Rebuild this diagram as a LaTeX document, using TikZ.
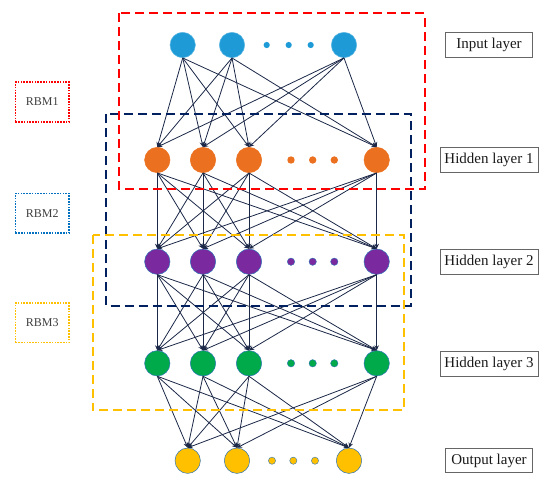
\documentclass[tikz,border=0pt]{standalone}
\usepackage{fontspec}
\setmainfont{Liberation Serif}
\usetikzlibrary{arrows.meta, positioning}

\definecolor{inblue}{RGB}{30,155,215}
\definecolor{hidorange}{RGB}{235,112,32}
\definecolor{hidpurple}{RGB}{122,42,158}
\definecolor{hidgreen}{RGB}{0,170,75}
\definecolor{outyellow}{RGB}{255,192,0}
\definecolor{linknavy}{RGB}{28,40,72}
\definecolor{boxnavy}{RGB}{0,32,96}
\definecolor{boxred}{RGB}{255,0,0}
\definecolor{rbmblue}{RGB}{0,112,192}
\definecolor{rimblue}{RGB}{46,117,182}

\begin{document}
\begin{tikzpicture}[x=1pt, y=-1pt,
    neuron/.style={circle, minimum size=25.4pt, inner sep=0pt, line width=0.5pt},
    layerbox/.style={rectangle, draw=black!60, line width=0.7pt, minimum height=24.6pt, inner xsep=4.5pt, font=\fontsize{15}{15}\selectfont, text=black!90},
    rbmbox/.style={rectangle, line width=1.7pt, dash pattern=on 1.6pt off 1.2pt, minimum width=53.7pt, minimum height=39.4pt, font=\fontsize{12}{12}\selectfont, text=black!75},
    group/.style={line width=1.8pt, dash pattern=on 9pt off 5pt},
    link/.style={-{Stealth[length=5pt, width=4.5pt]}, draw=linknavy, line width=0.8pt}
]
\useasboundingbox (0,0) rectangle (550,488);

% neurons
\node[neuron, fill=inblue, draw=inblue!70!white] (in1) at (182.7,45) {};
\node[neuron, fill=inblue, draw=inblue!70!white] (in2) at (232,45) {};
\node[neuron, fill=inblue, draw=inblue!70!white] (in3) at (344,45) {};
\foreach \x [count=\k] in {157.3,203,249,376.7} {
  \node[neuron, fill=hidorange, draw=hidorange] (ha\k) at (\x,160) {};
  \node[neuron, fill=hidpurple, draw=rimblue] (hb\k) at (\x,261.7) {};
  \node[neuron, fill=hidgreen, draw=rimblue] (hc\k) at (\x,363.3) {};
}
\node[neuron, fill=outyellow, draw=rimblue] (out1) at (187.7,460.7) {};
\node[neuron, fill=outyellow, draw=rimblue] (out2) at (237,460.7) {};
\node[neuron, fill=outyellow, draw=rimblue] (out3) at (349,460.7) {};

% ellipsis dots
\foreach \x in {266.7,288.7,310.7} \fill[inblue] (\x,45) circle (3.1);
\foreach \x in {291,312.7,334.3} {
  \fill[hidorange] (\x,160) circle (3.7);
  \filldraw[fill=hidpurple, draw=rimblue, line width=0.4pt] (\x,261.7) circle (3.7);
  \filldraw[fill=hidgreen, draw=rimblue, line width=0.4pt] (\x,363.3) circle (3.7);
}
\foreach \x in {272,293.3,315} \filldraw[fill=outyellow, draw=rimblue, line width=0.4pt] (\x,460.7) circle (3.6);

% weights
\foreach \s in {1,2,3} \foreach \t in {1,...,4} \draw[link] (in\s.south) -- (ha\t.north);
\foreach \s in {1,...,4} \foreach \t in {1,...,4} \draw[link] (ha\s.south) -- (hb\t.north);
\foreach \s in {1,...,4} \foreach \t in {1,...,4} \draw[link] (hb\s.south) -- (hc\t.north);
\foreach \s in {1,...,4} \foreach \t in {1,2,3} \draw[link] (hc\s.south) -- (out\t.north);

% RBM groups
\draw[group, draw=boxnavy] (106,114.3) rectangle (411,305.7);
\draw[group, draw=outyellow] (92.7,234.7) rectangle (404,410);
\draw[group, draw=boxred] (119.3,13.3) rectangle (424.7,189.3);

% labels
\node[layerbox, minimum width=87.4pt] (inlbl) at (489,44.8) {Input layer};
\node[layerbox] (halbl) at (489,160) {Hidden layer 1};
\node[layerbox] (hblbl) at (489,262) {Hidden layer 2};
\node[layerbox] (hclbl) at (489,364) {Hidden layer 3};
\node[layerbox, minimum width=87.4pt] (outlbl) at (489,460.5) {Output layer};

\node[rbmbox, draw=boxred] (rbm1) at (42.2,102) {RBM1};
\node[rbmbox, draw=rbmblue, below=70pt of rbm1] (rbm2) {RBM2};
\node[rbmbox, draw=outyellow, below=68.7pt of rbm2] (rbm3) {RBM3};

\end{tikzpicture}
\end{document}
